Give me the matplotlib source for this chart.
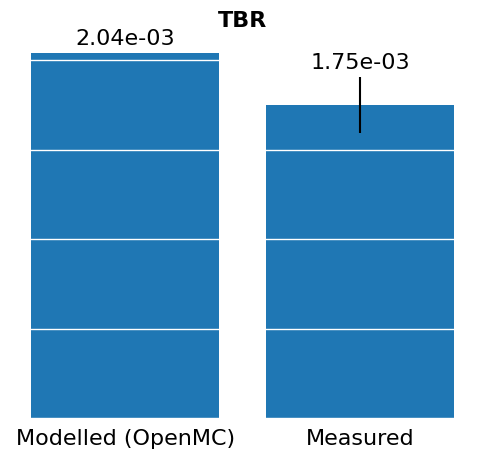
import matplotlib
matplotlib.use("Agg")
import matplotlib.pyplot as plt

categories = ["Modelled (OpenMC)", "Measured"]
values = [2.04e-3, 1.75e-3]
errors = [0.0, 1.55e-4]
yticks = [0, 0.0005, 0.001, 0.0015, 0.002]

fig = plt.figure(figsize=(4.84, 4.59), dpi=100)
ax = fig.add_axes([10/484, 1 - 418/459, 465/484, (418 - 35)/459])
x = list(range(len(categories)))
bars = ax.bar(x, values, width=0.8, color="#1f77b4", yerr=errors,
              error_kw=dict(ecolor="black", elinewidth=1.5, capsize=0))
ax.bar_label(bars, labels=[f"{v:.2e}" for v in values], padding=3, fontsize=16)
ax.set_xticks(x)
ax.set_xticklabels(categories, fontsize=16)
ax.set_yticks(yticks)
ax.set_yticklabels([])
ax.tick_params(axis="both", length=0)
ax.tick_params(axis="x", pad=8)
ax.set_axisbelow(False)
ax.grid(axis="y", color="white", linewidth=1)
for s in ax.spines.values():
    s.set_visible(False)
ax.set_facecolor("white")
ax.set_title("TBR", fontsize=16, fontweight="bold")
fig.savefig("out.png", dpi=100)
